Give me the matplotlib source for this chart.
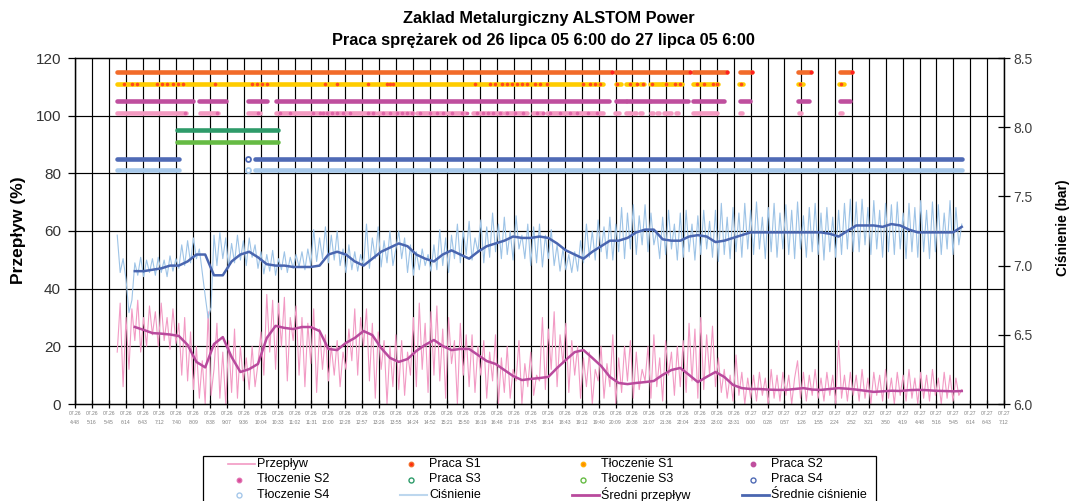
import numpy as np
import matplotlib
matplotlib.use("Agg")
import matplotlib.pyplot as plt
from matplotlib.lines import Line2D
from matplotlib.patches import Rectangle

plt.rcParams['font.family'] = ['Liberation Sans', 'DejaVu Sans']

title_line1 = "Zaklad Metalurgiczny ALSTOM Power"
title_line2 = "Praca sprężarek od 26 lipca 05 6:00 do 27 lipca 05 6:00"
ylabel_left = "Przepływ (%)"
ylabel_right = "Ciśnienie (bar)"

tick_times = ["4:48", "5:16", "5:45", "6:14", "6:43", "7:12", "7:40", "8:09", "8:38", "9:07",
              "9:36", "10:04", "10:33", "11:02", "11:31", "12:00", "12:28", "12:57", "13:26", "13:55",
              "14:24", "14:52", "15:21", "15:50", "16:19", "16:48", "17:16", "17:45", "18:14", "18:43",
              "19:12", "19:40", "20:09", "20:38", "21:07", "21:36", "22:04", "22:33", "23:02", "23:31",
              "0:00", "0:28", "0:57", "1:26", "1:55", "2:24", "2:52", "3:21", "3:50", "4:19",
              "4:48", "5:16", "5:45", "6:14", "6:43", "7:12"]
tick_dates = ["07.26"] * 40 + ["07.27"] * 16

# flow (%) every 5 min from 6:00 (26 Jul) to 6:00 (27 Jul)
flow = [
    18, 35, 6, 30, 12, 33, 22, 36, 18, 30, 20, 34,
    24, 32, 20, 35, 22, 30, 19, 33, 21, 28, 10, 30,
    8, 25, 5, 20, 2, 15, 0, 32, 3, 12, 28, 2,
    18, 0, 22, 4, 26, 2, 20, 8, 16, 5, 20, 6,
    14, 25, 10, 38, 18, 36, 12, 35, 20, 37, 8, 30,
    22, 34, 10, 30, 6, 28, 14, 33, 4, 26, 12, 24,
    8, 20, 10, 22, 6, 18, 12, 26, 15, 33, 10, 30,
    20, 33, 8, 28, 2, 25, 12, 22, 0, 20, 6, 24,
    5, 22, 3, 18, 10, 30, 6, 35, 12, 28, 4, 32,
    10, 34, 8, 26, 2, 30, 14, 22, 0, 28, 10, 24,
    6, 24, 4, 20, 10, 22, 2, 18, 8, 24, 0, 16,
    4, 20, 2, 12, 8, 22, 0, 14, 6, 18, 3, 10,
    8, 30, 5, 26, 12, 32, 6, 24, 14, 28, 4, 22,
    10, 20, 2, 16, 6, 18, 0, 12, 8, 20, 2, 14,
    6, 24, 0, 16, 4, 20, 8, 22, 2, 18, 5, 12,
    8, 20, 2, 24, 6, 16, 1, 22, 10, 18, 3, 20,
    6, 22, 4, 28, 8, 26, 2, 30, 5, 24, 10, 27,
    6, 16, 4, 12, 2, 10, 1, 17, 3, 11, 0, 9,
    2, 10, 1, 11, 3, 9, 0, 12, 2, 10, 1, 11,
    3, 10, 0, 9, 15, 2, 11, 1, 10, 3, 12, 2,
    9, 1, 11, 3, 10, 0, 22, 2, 10, 1, 11, 3,
    10, 1, 12, 2, 9, 0, 11, 3, 10, 1, 12, 2,
    9, 0, 11, 3, 10, 1, 12, 2, 9, 0, 11, 2,
    10, 1, 12, 3, 9, 0, 11, 2, 10, 1, 9, 3,
    5]

# pressure (bar) every 5 min
pressure = [
    7.22, 6.95, 7.05, 6.90, 6.66, 6.75, 7.02, 6.93, 7.06, 6.92, 7.04, 6.95,
    7.05, 6.93, 7.06, 6.95, 7.04, 6.92, 7.07, 6.96, 7.05, 6.98, 7.15, 7.00,
    7.18, 7.02, 7.20, 7.05, 7.12, 6.95, 6.78, 6.62, 6.70, 7.22, 7.00, 7.24,
    7.05, 7.20, 6.98, 7.16, 7.02, 7.22, 7.04, 7.18, 7.00, 7.20, 7.06, 7.15,
    6.98, 7.10, 6.94, 7.08, 6.96, 7.11, 6.93, 7.05, 6.97, 7.10, 6.95, 7.06,
    6.98, 7.08, 6.99, 7.10, 6.97, 7.12, 7.00, 7.26, 7.03, 7.20, 7.05, 7.28,
    7.02, 7.22, 7.04, 7.25, 7.00, 7.12, 6.95, 7.15, 6.97, 7.10, 6.96, 7.08,
    7.00, 7.30, 6.98, 7.20, 7.05, 7.28, 6.99, 7.18, 7.02, 7.25, 7.00, 7.12,
    7.25, 7.05, 7.20, 6.95, 7.15, 6.93, 7.10, 6.97, 7.12, 7.00, 7.08, 6.96,
    7.15, 6.97, 7.26, 7.00, 7.20, 6.95, 7.22, 7.05, 7.30, 7.02, 7.25, 7.08,
    7.32, 7.04, 7.20, 7.10, 7.33, 7.02, 7.28, 7.06, 7.38, 7.10, 7.30, 7.05,
    7.35, 7.08, 7.25, 7.04, 7.36, 7.12, 7.22, 7.05, 7.30, 7.00, 7.28, 7.02,
    7.30, 6.99, 7.22, 7.05, 7.26, 7.00, 7.15, 6.96, 7.12, 6.97, 7.08, 6.95,
    7.10, 6.96, 7.18, 7.02, 7.30, 7.06, 7.25, 7.04, 7.33, 7.10, 7.28, 7.05,
    7.35, 7.04, 7.30, 7.10, 7.42, 7.05, 7.38, 7.12, 7.44, 7.08, 7.36, 7.15,
    7.44, 7.10, 7.38, 7.15, 7.25, 7.05, 7.35, 7.08, 7.40, 7.12, 7.30, 7.04,
    7.38, 7.06, 7.40, 7.10, 7.30, 7.04, 7.36, 7.08, 7.40, 7.12, 7.32, 7.06,
    7.40, 7.03, 7.45, 7.08, 7.35, 7.05, 7.42, 7.10, 7.38, 7.06, 7.45, 7.12,
    7.40, 7.08, 7.46, 7.12, 7.35, 7.05, 7.42, 7.10, 7.45, 7.06, 7.38, 7.12,
    7.44, 7.08, 7.40, 7.05, 7.46, 7.12, 7.36, 7.06, 7.42, 7.10, 7.45, 7.08,
    7.38, 7.04, 7.42, 7.10, 7.35, 7.06, 7.40, 7.08, 7.45, 7.12, 7.48, 7.10,
    7.46, 7.10, 7.48, 7.15, 7.42, 7.08, 7.47, 7.12, 7.40, 7.06, 7.45, 7.10,
    7.44, 7.08, 7.46, 7.12, 7.38, 7.05, 7.45, 7.10, 7.42, 7.06, 7.47, 7.10,
    7.40, 7.05, 7.46, 7.10, 7.44, 7.08, 7.38, 7.12, 7.47, 7.08, 7.42, 7.15,
    7.30]

# moving averages every 15 min from 6:30 to 30:00 (6:00 next day)
avg_flow = [
    26.7, 25.7, 24.6, 24.4, 24.1, 23.6, 20.5, 14.6, 12.7, 20.8, 23.2, 16.3,
    11.1, 12.1, 13.9, 22.9, 27.1, 26.4, 26.0, 26.7, 26.7, 25.3, 19.1, 18.7,
    21.2, 22.9, 25.3, 23.9, 19.4, 16.0, 14.6, 15.6, 18.4, 20.5, 22.2, 20.1,
    18.7, 19.1, 19.1, 17.0, 14.9, 13.9, 11.8, 9.7, 8.3, 8.7, 9.0, 9.4,
    12.5, 15.3, 18.0, 18.7, 16.0, 13.2, 9.4, 7.3, 6.9, 7.3, 7.6, 8.0,
    10.1, 11.8, 12.5, 10.1, 7.6, 9.4, 11.1, 9.4, 6.6, 5.5, 5.2, 5.2,
    5.0, 4.9, 4.9, 5.2, 5.5, 5.0, 4.9, 5.2, 5.5, 5.3, 5.0, 4.6,
    4.2, 4.4, 4.6, 4.5, 4.8, 4.9, 4.8, 4.6, 4.5, 4.4, 4.5]
avg_pressure = [
    6.96, 6.96, 6.97, 6.98, 7.00, 7.00, 7.03, 7.08, 7.08, 6.93, 6.93, 7.03,
    7.08, 7.10, 7.06, 7.01, 7.00, 7.00, 6.99, 6.99, 6.99, 7.00, 7.08, 7.10,
    7.08, 7.03, 7.00, 7.05, 7.10, 7.13, 7.16, 7.14, 7.08, 7.05, 7.03, 7.08,
    7.11, 7.08, 7.05, 7.10, 7.14, 7.16, 7.18, 7.21, 7.20, 7.20, 7.21, 7.20,
    7.16, 7.11, 7.08, 7.05, 7.10, 7.14, 7.18, 7.18, 7.20, 7.24, 7.26, 7.26,
    7.19, 7.18, 7.18, 7.21, 7.22, 7.21, 7.17, 7.18, 7.20, 7.22, 7.24, 7.24,
    7.24, 7.24, 7.24, 7.24, 7.24, 7.24, 7.24, 7.23, 7.21, 7.25, 7.29, 7.29,
    7.29, 7.28, 7.30, 7.29, 7.26, 7.24, 7.24, 7.24, 7.24, 7.24, 7.28]

# compressor status segments (hour of day, >24 = next day)
praca_s1 = [(6.00, 20.07), (20.15, 22.28), (22.37, 23.33), (23.70, 24.04), (25.35, 25.72), (26.55, 26.89)]
tloczenie_s1 = [(6.00, 7.90), (7.96, 8.81), (8.87, 10.26), (10.32, 16.63), (16.68, 17.76), (17.82, 19.81),
                (20.18, 20.32), (20.46, 20.78), (20.86, 20.98), (21.15, 21.49), (21.52, 22.06),
                (22.37, 23.08), (23.68, 23.79), (25.35, 25.49), (26.52, 26.66)]
tloczenie_s1_dots = [6.20, 6.43, 6.57, 7.14, 7.28, 7.42, 7.59, 7.73, 7.88, 8.78, 9.84, 9.98, 10.12, 10.26,
                     11.91, 12.25, 13.13, 13.67, 13.76, 13.84, 16.17, 16.60, 16.74, 16.94, 17.08, 17.22,
                     17.37, 17.51, 17.65, 17.88, 18.02, 18.22, 19.24, 19.44, 19.58, 19.73, 20.21, 20.58,
                     20.78, 20.95, 21.20, 21.60, 21.86, 22.00, 22.48, 22.68, 22.94, 23.05, 23.73, 25.41, 26.57]
praca_s2 = [(6.00, 8.16), (8.33, 9.10), (9.72, 10.26), (10.52, 19.98), (20.18, 20.46), (20.49, 21.15),
            (21.17, 22.23), (22.37, 23.25), (23.70, 23.99), (25.35, 25.66), (26.55, 26.83)]
tloczenie_s2 = [(6.00, 7.96), (8.36, 8.87), (9.72, 10.06), (10.52, 13.05), (13.10, 13.33), (13.42, 14.41),
                (14.53, 15.32), (15.41, 15.89), (16.12, 16.94), (17.03, 17.65), (17.82, 18.11), (18.22, 19.81),
                (20.15, 20.27), (20.46, 20.61), (20.69, 20.75), (20.86, 20.92), (21.17, 21.23), (21.35, 21.40),
                (21.54, 21.74), (21.89, 21.94), (22.37, 23.05), (23.70, 23.76), (25.38, 25.44), (26.55, 26.60)]
tloczenie_s2_dots = [7.93, 8.84, 10.01, 10.63, 10.92, 11.57, 11.77, 11.85, 11.97, 12.11, 12.25, 12.42,
                     12.62, 13.13, 13.27, 13.56, 13.76, 13.96, 14.10, 14.24, 14.38, 14.61, 14.89, 15.09,
                     15.26, 15.52, 15.80, 15.95, 16.23, 16.40, 16.54, 16.68, 16.88, 17.08, 17.31, 17.54,
                     17.94, 18.11, 18.30, 18.59, 18.87, 19.07, 19.38, 19.64]
praca_s3 = [(7.71, 10.58)]
tloczenie_s3 = [(7.71, 10.58)]
praca_s4 = [(6.00, 7.76), (9.92, 30.00)]
praca_s4_single = [9.72]
tloczenie_s4 = [(6.00, 7.76), (9.92, 30.00)]
tloczenie_s4_single = [9.72]

status_levels = {"praca_s1": 115, "tl_s1": 111, "praca_s2": 105, "tl_s2": 101,
                 "praca_s3": 95, "tl_s3": 91, "praca_s4": 85, "tl_s4": 81}

legend_labels = ["Przepływ", "Praca S1", "Tłoczenie S1", "Praca S2",
                 "Tłoczenie S2", "Praca S3", "Tłoczenie S3", "Praca S4",
                 "Tłoczenie S4", "Ciśnienie", "Średni przepływ", "Średnie ciśnienie"]

C_FLOW = '#F29AC4'
C_PRESS = '#9DC3E6'
C_AVGF = '#B94A9D'
C_AVGP = '#4A66B0'
C_PS1 = '#F26B2A'
C_TS1 = '#FFCC00'
C_PS2 = '#BF4F9E'
C_TS2 = '#F49AC1'
C_PS3 = '#2E9B6A'
C_TS3 = '#66BB44'
C_PS4 = '#4F6AB5'
C_TS4 = '#A6C8EA'

W, H = 1074, 501
fig = plt.figure(figsize=(W / 100, H / 100), dpi=100)
ax = fig.add_axes([75 / W, 1 - 404 / H, (1004 - 75) / W, (404 - 58) / H])
ax2 = ax.twinx()

x0, x1 = 4.8, 31.2
ticks = [x0 + 0.48 * k for k in range(len(tick_times))]

ax.set_xlim(x0, x1)
ax.set_ylim(0, 120)
ax2.set_ylim(6.0, 8.5)

# grid
for tx in ticks:
    ax.axvline(tx, color='#000000', lw=0.85, zorder=0.5)
for gy in range(20, 120, 20):
    ax.axhline(gy, color='#000000', lw=0.85, zorder=0.5)

t_raw = 6 + np.arange(len(flow)) * 5 / 60
t_avg = 6.5 + np.arange(len(avg_flow)) * 0.25

LW = 3.3


def draw_segments(segs, level, color, z=3):
    for a, b in segs:
        ax.plot([a, b], [level, level], color=color, lw=LW, solid_capstyle='round', zorder=z)


draw_segments(praca_s1, status_levels["praca_s1"], C_PS1)
ax.plot([b for a, b in praca_s1], [status_levels["praca_s1"]] * len(praca_s1), 'o', ms=1.8,
        color='#FF2020', zorder=4)
draw_segments(tloczenie_s1, status_levels["tl_s1"], C_TS1)
ax.plot(tloczenie_s1_dots, [status_levels["tl_s1"]] * len(tloczenie_s1_dots), 'o', ms=1.6,
        color='#FF4A1A', zorder=4)
draw_segments(praca_s2, status_levels["praca_s2"], C_PS2)
draw_segments(tloczenie_s2, status_levels["tl_s2"], C_TS2)
ax.plot(tloczenie_s2_dots, [status_levels["tl_s2"]] * len(tloczenie_s2_dots), 'o', ms=1.6,
        color='#E066A8', zorder=4)
draw_segments(praca_s3, status_levels["praca_s3"], C_PS3)
draw_segments(tloczenie_s3, status_levels["tl_s3"], C_TS3)
draw_segments(praca_s4, status_levels["praca_s4"], C_PS4)
ax.plot(praca_s4_single, [status_levels["praca_s4"]], 'o', ms=3.6, mfc='white', mec=C_PS4, mew=1.3, zorder=4)
draw_segments(tloczenie_s4, status_levels["tl_s4"], C_TS4)
ax.plot(tloczenie_s4_single, [status_levels["tl_s4"]], 'o', ms=3.6, mfc='white', mec=C_TS4, mew=1.3, zorder=4)

ax.plot(t_raw, flow, color=C_FLOW, lw=0.8, zorder=2)
ax.plot(t_avg, avg_flow, color=C_AVGF, lw=1.8, zorder=3)

ax2.plot(t_raw, pressure, color=C_PRESS, lw=0.8, zorder=2)
ax2.plot(t_avg, avg_pressure, color=C_AVGP, lw=1.8, zorder=3)

# ticks and labels
ax.set_xticks(ticks)
ax.set_xticklabels([d + "\n" + t for d, t in zip(tick_dates, tick_times)], fontsize=3.6,
                   color='#808080', linespacing=1.9)
ax.tick_params(axis='x', direction='inout', length=6, width=0.9, pad=2)
ax.set_yticks(range(0, 121, 20))
ax.tick_params(axis='y', direction='out', length=5, width=0.9, labelsize=11, labelcolor='#333333', pad=5)
ax2.set_yticks([6.0, 6.5, 7.0, 7.5, 8.0, 8.5])
ax2.set_yticklabels(["6.0", "6.5", "7.0", "7.5", "8.0", "8.5"])
ax2.tick_params(axis='y', direction='inout', length=8, width=0.9, labelsize=10, labelcolor='#404040', pad=3)
for a in (ax, ax2):
    for s in a.spines.values():
        s.set_color('black')
        s.set_linewidth(0.9)

fig.text(19 / W, 1 - 230 / H, ylabel_left, rotation=90, ha='center', va='center',
         fontsize=12.5, fontweight='bold')
fig.text(1063 / W, 1 - 228 / H, ylabel_right, rotation=90, ha='center', va='center',
         fontsize=10, fontweight='bold')
fig.text(549 / W, 1 - 18 / H, title_line1, ha='center', va='center', fontsize=11.8, fontweight='bold')
fig.text(543 / W, 1 - 40 / H, title_line2, ha='center', va='center', fontsize=11.8, fontweight='bold')

# legend (drawn manually to keep rows aligned like the original)
ft = fig.transFigure
fig.add_artist(Rectangle((203 / W, 1 - 540 / H), (876 - 203) / W, (540 - 456) / H, fill=False,
                         edgecolor='black', lw=0.9, transform=ft))
col_x = [228, 400, 572, 742]
row_y = [464, 479.5, 495]
handle_kind = [
    ('line', dict(color=C_FLOW, lw=1.2)),
    ('mark', dict(mfc='#FF2A10', mec='#F26B2A', ms=3.2)),
    ('mark', dict(mfc='#FF8C00', mec='#FFB000', ms=3.2)),
    ('mark', dict(mfc=C_PS2, mec=C_PS2, ms=3.2)),
    ('mark', dict(mfc='#D94A98', mec='#E070B0', ms=3.2)),
    ('mark', dict(mfc='white', mec=C_PS3, ms=3.6, mew=1.0)),
    ('mark', dict(mfc='white', mec=C_TS3, ms=3.6, mew=1.0)),
    ('mark', dict(mfc='white', mec=C_PS4, ms=3.6, mew=1.0)),
    ('mark', dict(mfc='white', mec=C_TS4, ms=3.6, mew=1.0)),
    ('line', dict(color='#BDD7EE', lw=1.5)),
    ('line', dict(color=C_AVGF, lw=2.0)),
    ('line', dict(color=C_AVGP, lw=2.0)),
]
for i, lab in enumerate(legend_labels):
    r, c = divmod(i, 4)
    hx, hy = col_x[c], row_y[r]
    kind, kw = handle_kind[i]
    if kind == 'line':
        fig.add_artist(Line2D([hx / W, (hx + 27) / W], [1 - hy / H, 1 - hy / H], transform=ft, **kw))
    else:
        fig.add_artist(Line2D([(hx + 11) / W], [1 - hy / H], ls='none', marker='o', transform=ft, **kw))
    fig.text((hx + 29) / W, 1 - hy / H, lab, ha='left', va='center', fontsize=9, color='black')

fig.savefig('out.png', dpi=100)
